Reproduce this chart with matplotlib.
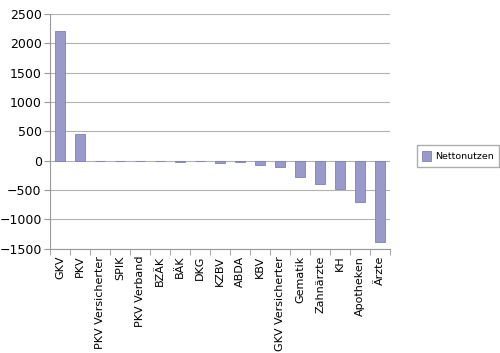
import numpy as np
import matplotlib.pyplot as plt

# Nettonutzen je Akteur
akteure = ['GKV', 'PKV', 'PKV Versicherter', 'SPIK', 'PKV Verband', 'BZÄK', 'BÄK',
           'DKG', 'KZBV', 'ABDA', 'KBV', 'GKV Versicherter', 'Gematik', 'Zahnärzte',
           'KH', 'Apotheken', 'Ärzte']
nettonutzen = [2200, 460, 0, 0, 0, -10, -15, -10, -45, -20, -78, -112, -275, -398,
               -478, -703, -1385]

fig = plt.figure(figsize=(5, 3.53), dpi=100)
ax = fig.add_axes([0.1, 0.295, 0.68, 0.666])

x = np.arange(len(akteure))
ax.bar(x, nettonutzen, width=0.5, color='#9999cc', edgecolor='#8080b8',
       linewidth=0.6, label='Nettonutzen', zorder=3)

ax.set_ylim(-1500, 2500)
ax.set_yticks(np.arange(-1500, 2501, 500))
ax.set_xlim(-0.5, len(akteure) - 0.5)
ax.set_xticks(x)
ax.set_xticklabels(akteure, rotation=90, fontsize=8)
ax.set_xticks(np.arange(-0.5, len(akteure), 1), minor=True)
ax.tick_params(axis='x', which='major', length=0, pad=5)
ax.tick_params(axis='x', which='minor', length=4, color='#999999')
ax.tick_params(axis='y', length=4, color='#999999', pad=2, labelsize=9)

ax.yaxis.grid(True, color='#b3b3b3', linewidth=0.8, zorder=0)
for s in ['top', 'right']:
    ax.spines[s].set_visible(False)
for s in ['left', 'bottom']:
    ax.spines[s].set_color('#999999')

ax.legend(loc='center left', bbox_to_anchor=(1.065, 0.395), fontsize=6.8,
          fancybox=False, edgecolor='#999999', handlelength=0.9,
          handleheight=1.3, handletextpad=0.4, borderpad=0.6)

fig.savefig('out.png', dpi=100)
